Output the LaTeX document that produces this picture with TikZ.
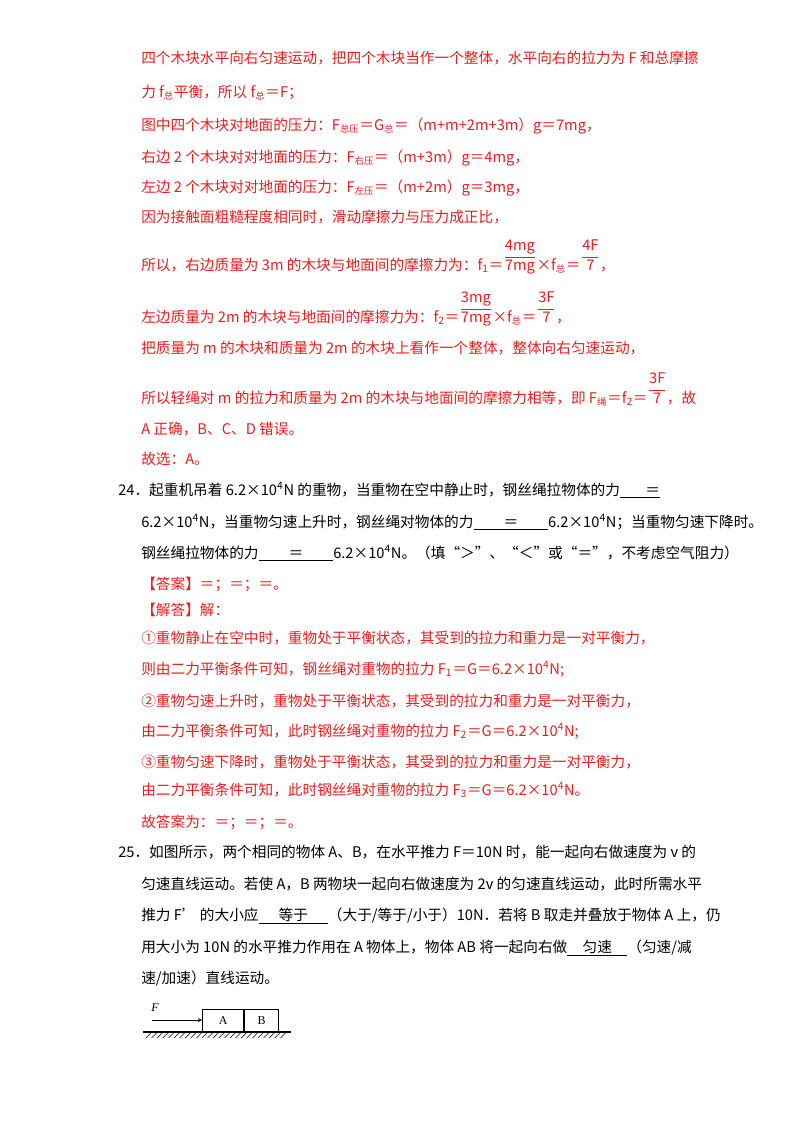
\documentclass[tikz,border=0pt]{standalone}
\usepackage{fontspec}
\setmainfont{Noto Sans CJK SC}
\newfontfamily\ser{Liberation Serif}
\definecolor{rd}{RGB}{235,30,30}
\newcommand{\zs}[1]{\textsubscript{\scriptsize #1}}
\newcommand{\bl}[1]{\underline{\hbox to 56pt{\hss #1\hss}}}
\newcommand{\fr}[2]{\raisebox{7pt}{$\displaystyle\frac{\mathrm{#1}}{\mathrm{#2}}$}}
\begin{document}
\begin{tikzpicture}[x=0.75pt,y=-0.75pt,
 ln/.style={anchor=base west,inner sep=0pt,font=\fontsize{11}{13}\selectfont},
 r/.style={ln,text=rd},
 k/.style={ln,text=black}]
\useasboundingbox (0,0) rectangle (800,1132);
\fill[white] (0,0) rectangle (800,1132);
\node[r] (l1) at (141,63) {四个木块水平向右匀速运动，把四个木块当作一个整体，水平向右的拉力为 F 和总摩擦};
\node[r] (l2) at (141,97) {力 f\zs{总}平衡，所以 f\zs{总}＝F；};
\node[r] (l3) at (141,130) {图中四个木块对地面的压力：F\zs{总压}＝G\zs{总}＝（m+m+2m+3m）g＝7mg，};
\node[r] (l4) at (141,162) {右边 2 个木块对对地面的压力：F\zs{右压}＝（m+3m）g＝4mg，};
\node[r] (l5) at (141,192) {左边 2 个木块对对地面的压力：F\zs{左压}＝（m+2m）g＝3mg，};
\node[r] (l6) at (141,222) {因为接触面粗糙程度相同时，滑动摩擦力与压力成正比，};
\node[r] (l7) at (141,270) {所以，右边质量为 3m 的木块与地面间的摩擦力为：f\textsubscript{1}＝\fr{4mg}{7mg}×f\zs{总}＝\fr{4F}{7}，};
\node[r] (l8) at (141,322) {左边质量为 2m 的木块与地面间的摩擦力为：f\textsubscript{2}＝\fr{3mg}{7mg}×f\zs{总}＝\fr{3F}{7}，};
\node[r] (l9) at (141,353) {把质量为 m 的木块和质量为 2m 的木块上看作一个整体，整体向右匀速运动，};
\node[r] (l10) at (141,403) {所以轻绳对 m 的拉力和质量为 2m 的木块与地面间的摩擦力相等，即 F\zs{绳}＝f\textsubscript{2}＝\fr{3F}{7}，故};
\node[r] (l11) at (141,434) {A 正确，B、C、D 错误。};
\node[r] (l12) at (141,464) {故选：A。};
\node[k] (q1) at (118,495) {24．起重机吊着 6.2×10\textsuperscript{4}N 的重物，当重物在空中静止时，钢丝绳拉物体的力\underline{\hbox to 30pt{\hss ＝}}};
\node[k] (q2) at (141,527) {6.2×10\textsuperscript{4}N，当重物匀速上升时，钢丝绳对物体的力\bl{＝}6.2×10\textsuperscript{4}N；当重物匀速下降时。};
\node[k] (q3) at (141,558) {钢丝绳拉物体的力\bl{＝}6.2×10\textsuperscript{4}N。（填“＞”、“＜”或“＝”，不考虑空气阻力）};
\node[r] (a1) at (141,589) {【答案】＝；＝；＝。};
\node[r] (a2) at (141,615) {【解答】解：};
\node[r] (a3) at (141,643) {①重物静止在空中时，重物处于平衡状态，其受到的拉力和重力是一对平衡力，};
\node[r] (a4) at (141,674) {则由二力平衡条件可知，钢丝绳对重物的拉力 F\textsubscript{1}＝G＝6.2×10\textsuperscript{4}N;};
\node[r] (a5) at (141,706) {②重物匀速上升时，重物处于平衡状态，其受到的拉力和重力是一对平衡力，};
\node[r] (a6) at (141,736) {由二力平衡条件可知，此时钢丝绳对重物的拉力 F\textsubscript{2}＝G＝6.2×10\textsuperscript{4}N;};
\node[r] (a7) at (141,767) {③重物匀速下降时，重物处于平衡状态，其受到的拉力和重力是一对平衡力，};
\node[r] (a8) at (141,795) {由二力平衡条件可知，此时钢丝绳对重物的拉力 F\textsubscript{3}＝G＝6.2×10\textsuperscript{4}N。};
\node[r] (a9) at (141,827) {故答案为：＝；＝；＝。};
\node[k] (p1) at (118,857) {25．如图所示，两个相同的物体 A、B，在水平推力 F＝10N 时，能一起向右做速度为 v 的};
\node[k] (p2) at (141,889) {匀速直线运动。若使 A，B 两物块一起向右做速度为 2v 的匀速直线运动，此时所需水平};
\node[k] (p3) at (141,920) {推力 F' 的大小应\underline{\hbox to 52pt{\hss 等于\hss}}（大于/等于/小于）10N．若将 B 取走并叠放于物体 A 上，仍};
\node[k] (p4) at (141,952) {用大小为 10N 的水平推力作用在 A 物体上，物体 AB 将一起向右做\underline{\hbox to 45pt{\hss 匀速\hss}}（匀速/减};
\node[k] (p5) at (141,983) {速/加速）直线运动。};
% figure
\draw[thick] (143,1032) -- (291,1032);
\foreach \i in {0,...,24} \draw[thin] (151+5.6*\i,1033) -- ++(-5,5);
\node[draw,thick,minimum width=31pt,minimum height=16.5pt,inner sep=0pt,anchor=south west,font=\ser\small] (A) at (202,1032) {A};
\node[draw,thick,minimum width=25pt,minimum height=16.5pt,inner sep=0pt,anchor=south west,font=\ser\small] (B) at (A.south east) {B};
\coordinate (fs) at (152,1020);
\draw[-stealth] (fs) -- (A.west |- fs);
\node[font=\ser\itshape\small,inner sep=0pt] (F) at (155,1008) {F};
\end{tikzpicture}
\end{document}
